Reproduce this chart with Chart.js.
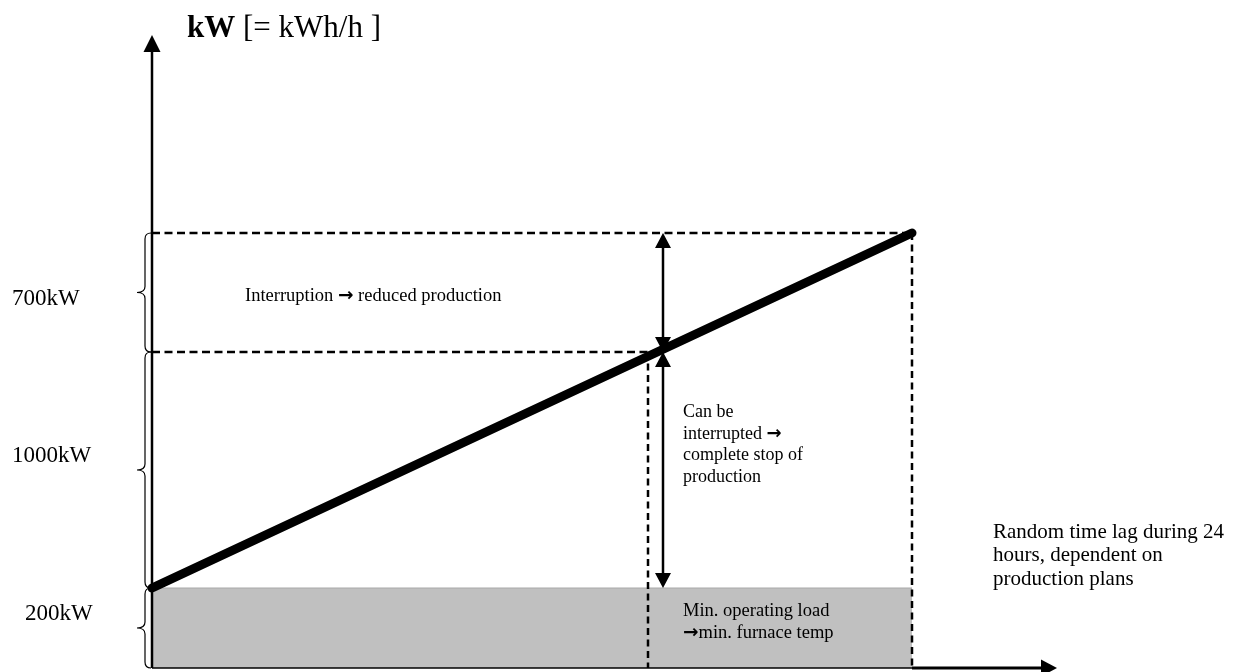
<!DOCTYPE html>
<html>
<head>
<meta charset="utf-8">
<script src="https://cdn.jsdelivr.net/npm/chart.js@4.4.0/dist/chart.umd.min.js"></script>
<style>
  html, body { margin: 0; background: #fff; }
  #wrap { width: 1234px; height: 672px; }
</style>
</head>
<body>
<div id="wrap"><canvas id="loadChart" width="1234" height="672"></canvas></div>
<script>
// schematic load diagram: min load + interruptible band + reducible band
// units are schematic (not to kW scale), baseline = 0

const bandLabels = ['200kW', '1000kW', '700kW'];
const bandEdges  = [0, 80, 316, 435];      // load levels bounding each band
const rampX      = [0, 760];                // load ramp over time
const rampY      = [80, 435];
const cutoffX    = 496;                     // dashed drop where full interruptible band reached
const arrowX     = 511;                     // position of the double arrows
const lagEndX    = 760;                     // end of the random time lag
const xRange     = [0, 905];
const yRange     = [0, 633];

const titleBold  = 'kW';
const titleRest  = ' [= kWh/h ]';

// band labels left of the axis (x, baseline y in chart units)
const bandLabelX = [-127, -140, -140];
const bandLabelY = [48, 206, 363];

const notes = [
  { lines: ['Interruption \u2192 reduced production'], x: 93, y: 367, lh: 22, size: 18.5 },
  { lines: ['Can be', 'interrupted \u2192', 'complete stop of', 'production'], x: 531, y: 251, lh: 21.7, size: 18 },
  { lines: ['Min. operating load', '\u2192min. furnace temp'], x: 531, y: 52, lh: 22, size: 18.5 },
  { lines: ['Random time lag during 24', 'hours, dependent on', 'production plans'], x: 841, y: 130, lh: 23.3, size: 21 },
];

const serif = '"Liberation Serif", "Times New Roman", serif';
const dash = [8, 4.5];

function pts(xs, ys) {
  return xs.map((x, i) => ({ x, y: ys[i] }));
}

function head(ctx, x, y, dir, len, half) {
  ctx.beginPath();
  ctx.moveTo(x, y);
  if (dir === 'up')    { ctx.lineTo(x - half, y + len); ctx.lineTo(x + half, y + len); }
  if (dir === 'down')  { ctx.lineTo(x - half, y - len); ctx.lineTo(x + half, y - len); }
  if (dir === 'right') { ctx.lineTo(x - len, y - half); ctx.lineTo(x - len, y + half); }
  ctx.closePath();
  ctx.fill();
}

function brace(ctx, xEnd, xBody, xTip, y1, y2) {
  const ym = (y1 + y2) / 2, r = 6;
  ctx.beginPath();
  ctx.moveTo(xEnd, y1);
  ctx.quadraticCurveTo(xBody, y1, xBody, y1 + r);
  ctx.lineTo(xBody, ym - r);
  ctx.quadraticCurveTo(xBody, ym, xTip, ym);
  ctx.quadraticCurveTo(xBody, ym, xBody, ym + r);
  ctx.lineTo(xBody, y2 - r);
  ctx.quadraticCurveTo(xBody, y2, xEnd, y2);
  ctx.stroke();
}

// text with a heavier arrow glyph, like the Wingdings arrow in the original
function richText(ctx, text, x, y, size) {
  const parts = text.split('\u2192');
  let cx = x;
  parts.forEach((p, i) => {
    ctx.font = size + 'px ' + serif;
    ctx.fillText(p, cx, y);
    cx += ctx.measureText(p).width;
    if (i < parts.length - 1) {
      ctx.font = 'bold ' + size + 'px "DejaVu Sans"';
      ctx.fillText('\u2192', cx, y);
      cx += ctx.measureText('\u2192').width;
    }
  });
}

const schematic = {
  id: 'schematic',
  afterDatasetsDraw(chart) {
    const ctx = chart.ctx;
    const sx = chart.scales.x, sy = chart.scales.y;
    const px = v => sx.getPixelForValue(v);
    const py = v => sy.getPixelForValue(v);
    ctx.save();
    ctx.fillStyle = '#000';
    ctx.strokeStyle = '#000';

    // axes with arrow heads
    const x0 = px(0), y0 = py(0);
    ctx.lineWidth = 2.5;
    ctx.beginPath();
    ctx.moveTo(x0, y0); ctx.lineTo(x0, py(yRange[1]) + 16);
    ctx.stroke();
    head(ctx, x0, py(yRange[1]), 'up', 17, 8.5);

    ctx.lineWidth = 1.5;
    ctx.beginPath();
    ctx.moveTo(x0, y0); ctx.lineTo(px(lagEndX), y0);
    ctx.stroke();
    ctx.lineWidth = 3;
    ctx.beginPath();
    ctx.moveTo(px(lagEndX), y0); ctx.lineTo(px(xRange[1]) - 14, y0);
    ctx.stroke();
    head(ctx, px(xRange[1]), y0, 'right', 16, 8.5);

    // double arrows on the two upper bands
    const ax = px(arrowX);
    ctx.lineWidth = 2.5;
    [[bandEdges[3], bandEdges[2]], [bandEdges[2], bandEdges[1]]].forEach(([top, bot]) => {
      const yt = py(top), yb = py(bot);
      ctx.beginPath();
      ctx.moveTo(ax, yt + 12); ctx.lineTo(ax, yb - 12);
      ctx.stroke();
      head(ctx, ax, yt, 'up', 15, 8);
      head(ctx, ax, yb, 'down', 15, 8);
    });

    // braces + band labels
    ctx.lineWidth = 1.2;
    for (let i = 0; i < bandLabels.length; i++) {
      brace(ctx, x0 - 1, x0 - 7, x0 - 15, py(bandEdges[i + 1]), py(bandEdges[i]));
    }
    ctx.font = '23px ' + serif;
    ctx.textBaseline = 'alphabetic';
    ctx.textAlign = 'left';
    bandLabels.forEach((t, i) => ctx.fillText(t, px(bandLabelX[i]), py(bandLabelY[i])));

    // axis title
    const tx = px(35), ty = py(631);
    ctx.font = 'bold 31px ' + serif;
    ctx.fillText(titleBold, tx, ty);
    const w = ctx.measureText(titleBold).width;
    ctx.font = '31px ' + serif;
    ctx.fillText(titleRest, tx + w, ty);

    // notes
    notes.forEach(n => {
      n.lines.forEach((line, k) => richText(ctx, line, px(n.x), py(n.y) + k * n.lh, n.size));
    });
    ctx.restore();
  }
};

new Chart(document.getElementById('loadChart'), {
  type: 'line',
  data: {
    datasets: [
      { // load ramp
        data: pts(rampX, rampY),
        borderColor: '#000', borderWidth: 9, borderCapStyle: 'round',
        pointRadius: 0, fill: false, order: 0, clip: false,
      },
      { // top level
        data: pts([0, lagEndX], [bandEdges[3], bandEdges[3]]),
        borderColor: '#000', borderWidth: 2.5, borderDash: dash,
        pointRadius: 0, fill: false, order: 1, clip: false,
      },
      { // interruptible level
        data: pts([0, cutoffX], [bandEdges[2], bandEdges[2]]),
        borderColor: '#000', borderWidth: 2.5, borderDash: dash,
        pointRadius: 0, fill: false, order: 1, clip: false,
      },
      { // drop at cutoff
        data: pts([cutoffX, cutoffX], [bandEdges[2], 0]),
        borderColor: '#000', borderWidth: 2.5, borderDash: [7, 4.5],
        pointRadius: 0, fill: false, order: 1, clip: false,
      },
      { // end of time lag
        data: pts([lagEndX, lagEndX], [bandEdges[3], 0]),
        borderColor: '#000', borderWidth: 2.5, borderDash: [7, 4.5],
        pointRadius: 0, fill: false, order: 1, clip: false,
      },
      { // min operating load
        data: pts([0, lagEndX], [bandEdges[1], bandEdges[1]]),
        borderColor: '#a8a8a8', borderWidth: 1, backgroundColor: '#c0c0c0',
        pointRadius: 0, fill: 'origin', order: 2, clip: false,
      },
    ]
  },
  options: {
    responsive: false,
    animation: false,
    devicePixelRatio: 1,
    events: [],
    layout: { padding: { left: 152, right: 177, top: 35, bottom: 4 } },
    scales: {
      x: { type: 'linear', min: xRange[0], max: xRange[1], display: false },
      y: { type: 'linear', min: yRange[0], max: yRange[1], display: false },
    },
    plugins: { legend: { display: false }, tooltip: { enabled: false } }
  },
  plugins: [schematic]
});
</script>
</body>
</html>
